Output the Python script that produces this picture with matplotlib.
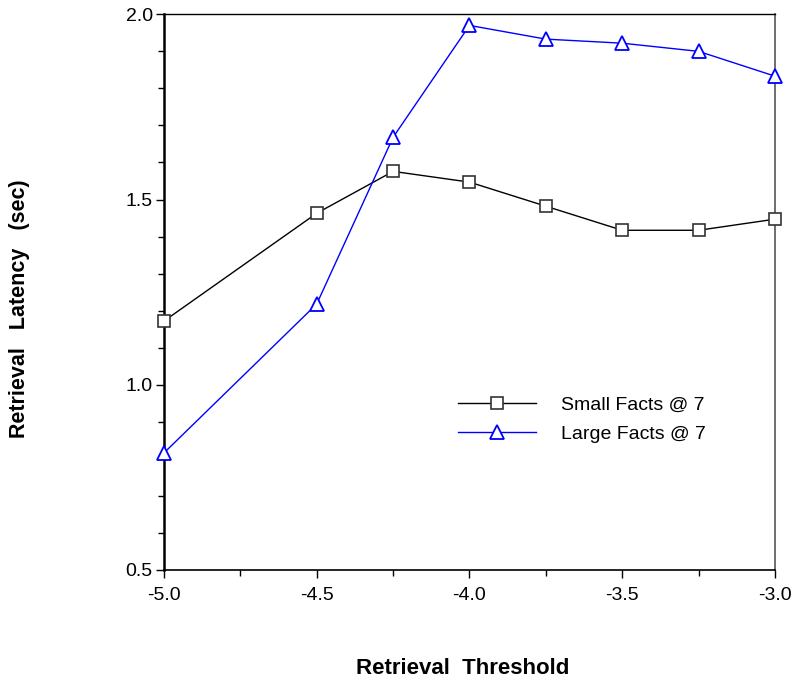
import numpy as np
import matplotlib.pyplot as plt
from matplotlib.ticker import MultipleLocator, FormatStrFormatter

plt.rcParams['font.family'] = ['Liberation Sans', 'DejaVu Sans']

threshold = [-5.0, -4.5, -4.25, -4.0, -3.75, -3.5, -3.25, -3.0]
small_facts = [1.172, 1.463, 1.576, 1.547, 1.482, 1.417, 1.417, 1.447]
large_facts = [0.816, 1.218, 1.668, 1.970, 1.933, 1.922, 1.900, 1.833]


def make_plot():
    fig = plt.figure(figsize=(7.96, 6.81), dpi=100)
    ax = fig.add_axes([0.206, 0.163, 0.7676, 0.816])

    ax.plot(threshold, small_facts, color='black', lw=1, marker='s', ms=9,
            mfc='white', mec='#333333', mew=1.2, label='Small Facts @ 7',
            clip_on=False, zorder=3)
    ax.plot(threshold, large_facts, color='blue', lw=1, marker='^', ms=10,
            mfc='white', mec='blue', mew=1.3, label='Large Facts @ 7',
            clip_on=False, zorder=3)

    ax.set_xlim(-5.0, -3.0)
    ax.set_ylim(0.5, 2.0)
    ax.xaxis.set_major_locator(MultipleLocator(0.5))
    ax.xaxis.set_minor_locator(MultipleLocator(0.25))
    ax.yaxis.set_major_locator(MultipleLocator(0.5))
    ax.yaxis.set_minor_locator(MultipleLocator(0.1))
    ax.xaxis.set_major_formatter(FormatStrFormatter('%.1f'))
    ax.yaxis.set_major_formatter(FormatStrFormatter('%.1f'))
    ax.tick_params(which='major', direction='out', length=6, width=1,
                   labelsize=14)
    ax.tick_params(axis='x', which='major', pad=6)
    ax.tick_params(axis='y', which='major', pad=2)
    ax.tick_params(which='minor', direction='out', length=4, width=1)
    ax.tick_params(top=False, right=False)

    ax.spines['left'].set_linewidth(1.8)
    ax.spines['bottom'].set_linewidth(1.2)
    ax.spines['top'].set_linewidth(1.0)
    ax.spines['right'].set_linewidth(1.2)
    ax.spines['right'].set_color('#555555')

    fig.text(0.025, 0.546, 'Retrieval   Latency   (sec)', rotation=90,
             ha='center', va='center', fontsize=15.5, fontweight='bold')
    fig.text(0.581, 0.019, 'Retrieval  Threshold', ha='center',
             va='center', fontsize=16, fontweight='bold')

    ax.legend(loc='upper left', bbox_to_anchor=(0.453, 0.345), frameon=False,
              fontsize=14, handlelength=4.0, handletextpad=1.29,
              labelspacing=0.6)

    fig.savefig('out.png', dpi=100)


if __name__ == '__main__':
    make_plot()
